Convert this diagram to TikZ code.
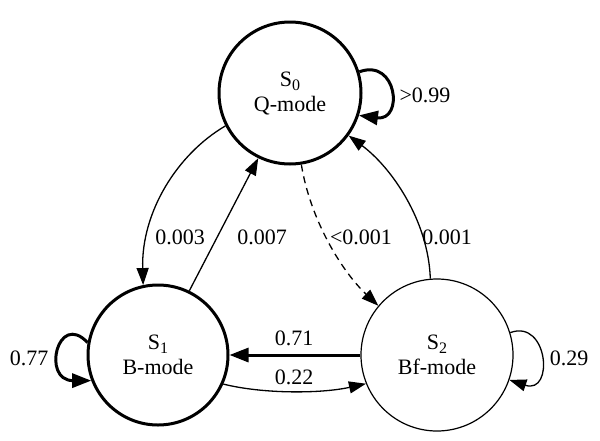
\documentclass[tikz,border=0pt]{standalone}
\usepackage{fontspec}
\setmainfont{Liberation Serif}
\usetikzlibrary{arrows.meta}
\newcommand{\subidx}[1]{\raisebox{-4pt}{\fontsize{16}{16}\selectfont #1}}
\begin{document}
\begin{tikzpicture}[x=1pt,y=-1pt,
  every node/.style={font=\fontsize{22}{22}\selectfont},
  statenode/.style={circle,draw,inner sep=0pt,align=center,minimum size=#1},
  thickline/.style={line width=3pt},
  thinline/.style={line width=1.2pt},
  edge/.style={line width=1.3pt,-{Triangle[length=17pt,width=12pt]}},
  thickedge/.style={line width=3pt,-{Triangle[length=19pt,width=14pt]}},
  lab/.style={inner sep=0pt}
]
\useasboundingbox[fill=white] (0,0) rectangle (600,440);

\node[statenode=142pt,thickline] (s0) at (290,93) {S\subidx{0}\\[3pt]Q-mode};
\node[statenode=140pt,thickline] (s1) at (158,355) {S\subidx{1}\\[3pt]B-mode};
\node[statenode=152pt,thinline] (s2) at (437,355) {S\subidx{2}\\[3pt]Bf-mode};

% S0 -> S1
\draw[edge] (s0.207) .. controls +(-48,28) and +(-2,-73) .. (s1.102.5);
% S1 -> S0
\draw[edge] (s1.64) -- (s0.244);
% S0 -> S2 dashed
\draw[edge,dash pattern=on 7pt off 5pt] (s0.279) .. controls +(9,55) and +(-37,-35) .. (s2.140);
% S2 -> S0
\draw[edge] (s2.95) .. controls +(-2,-58) and +(43,32) .. (s0.324);
% S2 -> S1
\draw[thickedge] (s2.west) -- (s1.east);
% S1 -> S2
\draw[edge] (s1.336) .. controls +(40,10) and +(-45,10) .. (s2.202.6);

% self loops
\draw[thickedge] (s0.17.7) .. controls +(38,-14) and +(45,6) .. (s0.-18.4);
\draw[thickedge] (s1.170.5) .. controls +(-30,-32) and +(-50,0) .. (s1.201);
\draw[edge] (s2.17.5) .. controls +(38,-14) and +(45,15) .. (s2.-19);

% labels
\node[lab] (l003) at (180,237) {0.003};
\node[lab] (l007) at (262,237) {0.007};
\node[lab] (l0001) at (361,237) {<0.001};
\node[lab] (l001) at (447,237) {0.001};
\node[lab] (l071) at (294,338) {0.71};
\node[lab] (l022) at (294,377) {0.22};
\node[lab] (l099) at (425,95) {>0.99};
\node[lab] (l077) at (29,358) {0.77};
\node[lab] (l029) at (569,358) {0.29};
\end{tikzpicture}
\end{document}
